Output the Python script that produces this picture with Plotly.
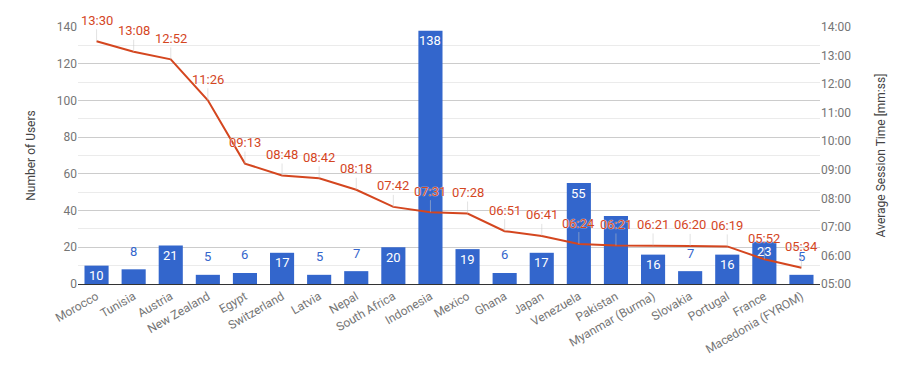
import plotly.graph_objects as go

countries = ["Morocco", "Tunisia", "Austria", "New Zealand", "Egypt", "Switzerland",
             "Latvia", "Nepal", "South Africa", "Indonesia", "Mexico", "Ghana", "Japan",
             "Venezuela", "Pakistan", "Myanmar (Burma)", "Slovakia", "Portugal", "France",
             "Macedonia (FYROM)"]
users = [10, 8, 21, 5, 6, 17, 5, 7, 20, 138, 19, 6, 17, 55, 37, 16, 7, 16, 23, 5]
session_times = ["13:30", "13:08", "12:52", "11:26", "09:13", "08:48", "08:42", "08:18",
                 "07:42", "07:31", "07:28", "06:51", "06:41", "06:24", "06:21", "06:21",
                 "06:20", "06:19", "05:52", "05:34"]
right_ticks = ["05:00", "06:00", "07:00", "08:00", "09:00", "10:00", "11:00", "12:00",
               "13:00", "14:00"]
# bar value labels that the original chart suppressed (collision with line labels)
hidden_bar_labels = ["Pakistan"]


def to_min(s):
    m, sec = s.split(":")
    return int(m) + int(sec) / 60.0


session_min = [to_min(s) for s in session_times]
right_vals = [to_min(s) for s in right_ticks]

BLUE = "#3366cc"
RED = "#d4461f"
FONT = "Roboto"

fig = go.Figure()
fig.add_trace(go.Bar(x=countries, y=users, marker=dict(color=BLUE, line=dict(width=0)),
                     yaxis="y", hoverinfo="skip"))
fig.add_trace(go.Scatter(x=countries, y=session_min, mode="lines",
                         line=dict(color=RED, width=2), yaxis="y2", hoverinfo="skip"))

annotations = []
for c, v in zip(countries, users):
    if c in hidden_bar_labels:
        continue
    inside = v >= 10
    annotations.append(dict(
        x=c, y=v, xref="x", yref="y", text=str(v), showarrow=False,
        yanchor="middle", yshift=-10 if inside else 18,
        font=dict(family=FONT, size=13, color="white" if inside else BLUE)))
for c, v, t in zip(countries, session_min, session_times):
    annotations.append(dict(
        x=c, y=v, xref="x", yref="y2", text=t, showarrow=True,
        arrowhead=0, arrowwidth=1, arrowcolor="rgba(200,200,200,0.5)",
        ax=0, ay=-21, standoff=0,
        font=dict(family=FONT, size=13, color=RED,
                  shadow="0px 0px 1px white, 0px 0px 1px white")))

fig.update_layout(
    width=900, height=363,
    margin=dict(l=70, r=88, t=19, b=87),
    plot_bgcolor="white", paper_bgcolor="white",
    showlegend=False,
    bargap=0.35,
    font=dict(family=FONT, size=12, color="#757575"),
    annotations=annotations,
    xaxis=dict(tickangle=-30, tickfont=dict(size=12, color="#757575"),
               showgrid=False, showline=True, linecolor="#333333", linewidth=1,
               ticks="", range=[-0.5, 19.5]),
    yaxis=dict(range=[0, 140], dtick=20, tickfont=dict(size=12, color="#757575"),
               gridcolor="#cccccc", gridwidth=1, zeroline=False, ticks="",
               minor=dict(dtick=10, showgrid=True, gridcolor="#ebebeb"),
               title=dict(text="Number of Users", font=dict(size=12, color="#444444"),
                          standoff=18)),
    yaxis2=dict(overlaying="y", side="right", range=[5, 14], tickvals=right_vals,
                ticktext=right_ticks, showgrid=False, zeroline=False,
                tickfont=dict(size=12, color="#757575"), ticks="",
                title=dict(text="Average Session Time [mm:ss]",
                           font=dict(size=12, color="#444444"), standoff=26)),
)

fig.write_html("out.html")
